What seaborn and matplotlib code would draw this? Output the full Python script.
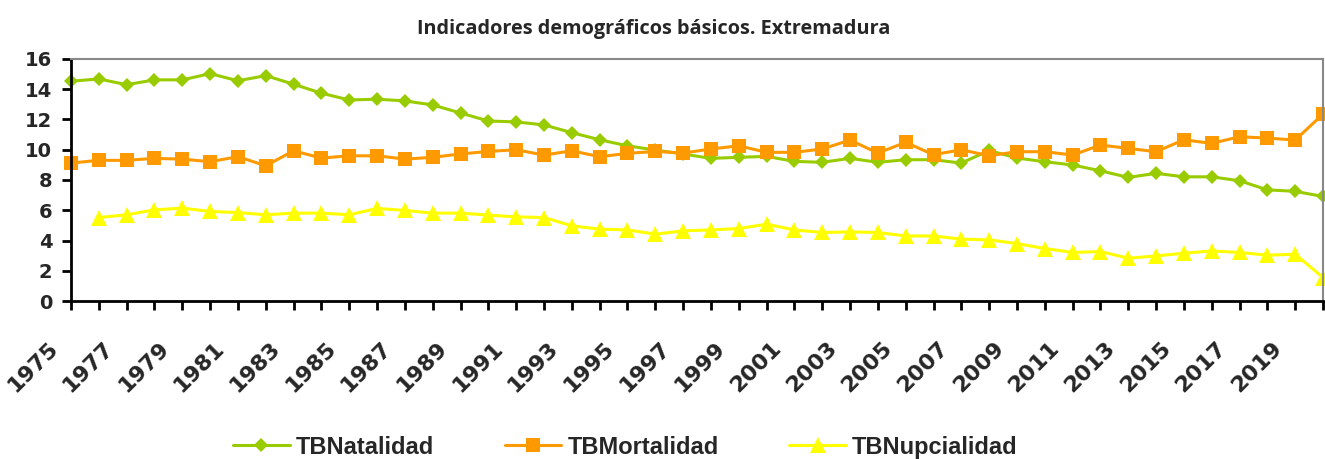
import numpy as np
import pandas as pd
import matplotlib
matplotlib.use("Agg")
import matplotlib.pyplot as plt
import matplotlib.transforms as mtransforms
import seaborn as sns

years = list(range(1975, 2021))
natalidad = [14.53, 14.68, 14.30, 14.62, 14.62, 15.03, 14.56, 14.90, 14.33, 13.74,
             13.29, 13.34, 13.23, 12.96, 12.43, 11.90, 11.84, 11.64, 11.13, 10.66,
             10.26, 9.98, 9.72, 9.43, 9.50, 9.56, 9.23, 9.17, 9.43, 9.17,
             9.34, 9.34, 9.12, 9.95, 9.45, 9.21, 8.99, 8.61, 8.17, 8.44,
             8.21, 8.21, 7.95, 7.35, 7.25, 6.91]
mortalidad = [9.12, 9.30, 9.30, 9.43, 9.38, 9.21, 9.54, 8.94, 9.93, 9.45,
              9.60, 9.60, 9.38, 9.50, 9.72, 9.89, 10.00, 9.65, 9.93, 9.54,
              9.76, 9.89, 9.78, 10.05, 10.26, 9.83, 9.83, 10.05, 10.64, 9.78,
              10.49, 9.67, 10.00, 9.60, 9.87, 9.87, 9.65, 10.31, 10.09, 9.87,
              10.66, 10.42, 10.86, 10.77, 10.64, 12.36]
nupcialidad = [np.nan, 5.52, 5.70, 6.03, 6.14, 5.92, 5.85, 5.70, 5.81, 5.81,
               5.70, 6.12, 5.99, 5.81, 5.81, 5.68, 5.56, 5.52, 4.97, 4.75,
               4.70, 4.42, 4.64, 4.70, 4.79, 5.08, 4.70, 4.53, 4.57, 4.53,
               4.30, 4.30, 4.09, 4.04, 3.80, 3.47, 3.21, 3.27, 2.83, 2.98,
               3.16, 3.31, 3.21, 3.03, 3.09, 1.55]
series_names = ["TBNatalidad", "TBMortalidad", "TBNupcialidad"]
colors = ["#99CC00", "#FF9900", "#FFFF00"]
markers = ["D", "s", "^"]
msizes = [7.2, 10.5, 11]

sns.set_style("white")
plt.rcParams['font.family'] = ['Liberation Sans', 'DejaVu Sans']

fig = plt.figure(figsize=(13.25, 4.59), dpi=100)
ax = fig.add_axes([0.0536, 0.3442, 0.9449, 0.5273])

for name, vals, c, m, ms in zip(series_names, [natalidad, mortalidad, nupcialidad], colors, markers, msizes):
    df = pd.DataFrame({"year": years, "value": vals})
    sns.lineplot(data=df, x="year", y="value", ax=ax, color=c, linewidth=2.2,
                 marker=m, markersize=ms, markeredgewidth=0, label=name, clip_on=False)

ax.set_xlim(1975, 2020)
ax.set_ylim(0, 16)
ax.set_yticks(range(0, 17, 2))
ax.set_xticks(years)
ax.set_xticklabels([str(y) if (y - 1975) % 2 == 0 else "" for y in years],
                   rotation=45, ha="right", va="top", rotation_mode="anchor")
ax.set_xlabel("")
ax.set_ylabel("")
ax.tick_params(axis="both", direction="out", length=6.5, width=2, color="black",
               bottom=True, left=True, top=False, right=False)
ax.tick_params(axis="y", pad=7, labelsize=14)
ax.tick_params(axis="x", pad=20, labelsize=16)
tick_font = ["DejaVu Sans"]
offset = mtransforms.ScaledTranslation(-17 / 72, 0, fig.dpi_scale_trans)
for lbl in ax.get_xticklabels():
    lbl.set_fontweight("bold")
    lbl.set_family(tick_font)
    lbl.set_transform(lbl.get_transform() + offset)
for lbl in ax.get_yticklabels():
    lbl.set_fontweight("bold")
    lbl.set_family(tick_font)

for side in ["left", "bottom"]:
    ax.spines[side].set_color("black")
    ax.spines[side].set_linewidth(2)
for side in ["top", "right"]:
    ax.spines[side].set_color("#888888")
    ax.spines[side].set_linewidth(1.5)

fig.text(0.4936, 1 - 34 / 459, "Indicadores demográficos básicos. Extremadura",
         ha="center", va="baseline", fontsize=14.3, fontweight="bold",
         family=["Open Sans", "DejaVu Sans"])

ax.legend_.remove()
handles, labels = ax.get_legend_handles_labels()
fig.legend(handles, labels, loc="center", bbox_to_anchor=(0.472, 0.026), ncol=3,
           frameon=False, handlelength=2.4, columnspacing=3.0, handletextpad=0.25,
           borderaxespad=0, borderpad=0,
           prop={"size": 17, "weight": "bold"})

fig.savefig("out.png", dpi=100)
